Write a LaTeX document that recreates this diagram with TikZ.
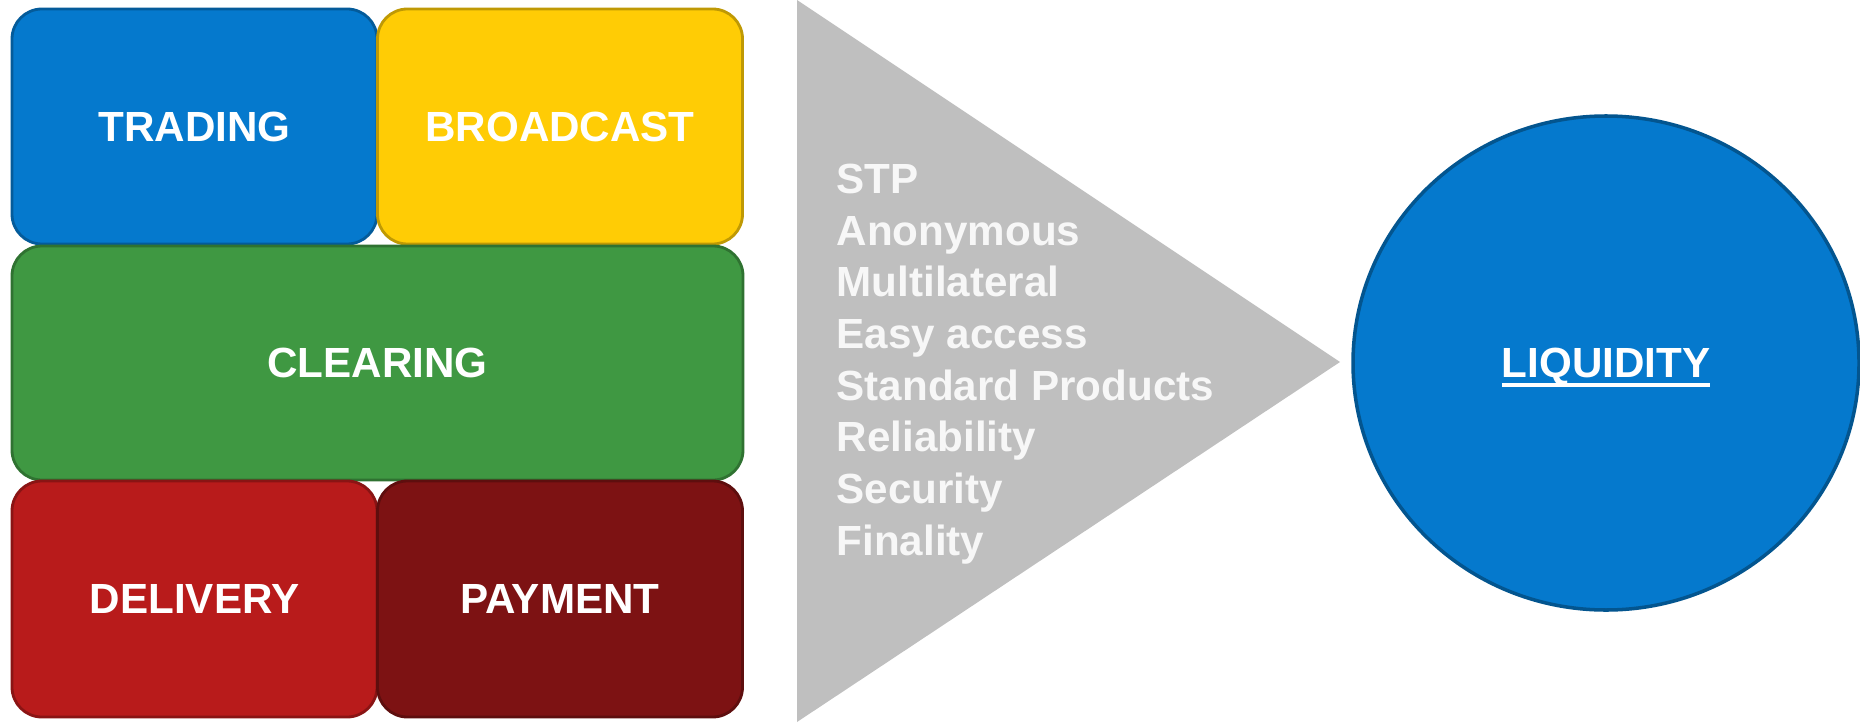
\documentclass[tikz,border=0pt]{standalone}
\usepackage{fontspec}
\setmainfont{Liberation Sans}
\definecolor{tradeblue}{RGB}{5, 121, 205}
\definecolor{castyellow}{RGB}{255, 204, 5}
\definecolor{cleargreen}{RGB}{63, 152, 66}
\definecolor{delivred}{RGB}{184, 27, 27}
\definecolor{payred}{RGB}{125, 18, 19}
\definecolor{arrowgray}{RGB}{191, 191, 191}
\usetikzlibrary{shapes.geometric}
\newcommand{\heavyuline}[1]{\setbox0\hbox{#1}\leavevmode\rlap{\rule[-2.6pt]{\wd0}{1.2pt}}\box0}

\begin{document}
\begin{tikzpicture}[
  blockbox/.style={draw=#1!75!black, fill=#1, line width=0.8pt, rounded corners=8.5pt, inner sep=0pt, outer sep=0pt,
    minimum width=3.65cm, minimum height=2.35cm, align=center, text=white, font=\fontsize{12}{14}\selectfont\bfseries},
  liqball/.style={ellipse, draw=tradeblue!70!black, fill=tradeblue, line width=1pt, inner sep=0pt, text depth=0pt,
    minimum width=5.06cm, minimum height=4.94cm, text=white, font=\fontsize{12}{14}\selectfont\bfseries}
]
  \useasboundingbox (0,0) rectangle (18.6,-7.22);

  % Building blocks
  \node[blockbox=tradeblue] (trading) at (1.945, -1.265) {TRADING};
  \node[blockbox=castyellow] (broadcast) at (5.60, -1.265) {BROADCAST};
  \node[blockbox=cleargreen, minimum width=7.31cm, minimum height=2.34cm] (clearing) at (3.775, -3.63) {CLEARING};
  \node[blockbox=delivred, minimum height=2.36cm] (delivery) at (1.945, -5.99) {DELIVERY};
  \node[blockbox=payred, minimum height=2.36cm] (payment) at (5.60, -5.99) {PAYMENT};

  % Arrow
  \fill[arrowgray] (7.97, 0) -- (13.40, -3.62) -- (7.97, -7.22) -- cycle;
  \node[anchor=west, align=left, inner sep=0pt, text=white!97!black,
    font=\fontsize{12}{14.7}\selectfont\bfseries] (props) at (8.36, -3.64) {
    STP\\
    Anonymous\\
    Multilateral\\
    Easy access\\
    Standard Products\\
    Reliability\\
    Security\\
    Finality
  };

  % Result
  \node[liqball] (liquidity) at (16.06, -3.63) {\heavyuline{LIQUIDITY}};
\end{tikzpicture}
\end{document}
